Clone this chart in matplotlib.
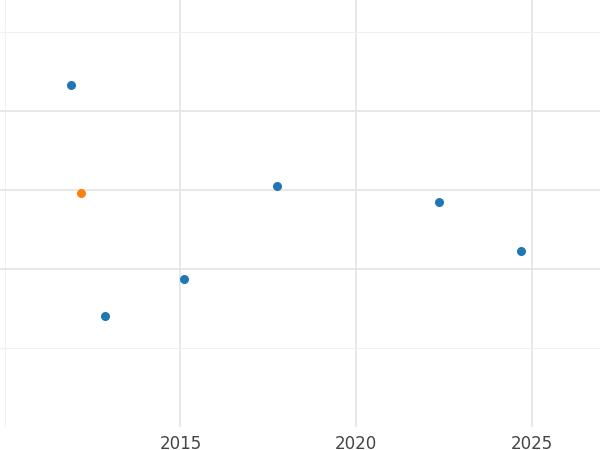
import matplotlib
matplotlib.use("Agg")
import matplotlib.pyplot as plt
from matplotlib.ticker import FixedLocator

years_blue = [2011.87, 2012.86, 2015.09, 2017.76, 2022.35, 2024.71]
vals_blue = [4.33, 1.41, 1.87, 3.05, 2.85, 2.23]
years_orange = [2012.18]
vals_orange = [2.96]
xticks = [2015, 2020, 2025]
xlabels = ["2015", "2020", "2025"]

fig = plt.figure(figsize=(6, 4.5), dpi=100)
ax = fig.add_axes([0, 23/450, 1, 427/450])
ax.set_xlim(2009.86, 2026.95)
ax.set_ylim(0, 427/79)
ax.xaxis.set_major_locator(FixedLocator(xticks))
ax.set_xticklabels(xlabels)
ax.xaxis.set_minor_locator(FixedLocator([2010]))
ax.yaxis.set_major_locator(FixedLocator([2, 3, 4]))
ax.yaxis.set_minor_locator(FixedLocator([1, 5]))
ax.grid(which="major", color="#e6e6e6", linewidth=1.3)
ax.grid(which="minor", color="#f0f0f0", linewidth=0.8)
ax.set_axisbelow(True)
for s in ax.spines.values():
    s.set_visible(False)
ax.tick_params(which="both", length=0, labelleft=False)
ax.tick_params(axis="x", labelsize=12, labelcolor="#444444", pad=6)
ax.scatter(years_blue, vals_blue, s=30, color="#1f77b4", zorder=3)
ax.scatter(years_orange, vals_orange, s=30, color="#ff7f0e", zorder=3)
fig.savefig("out.png")
